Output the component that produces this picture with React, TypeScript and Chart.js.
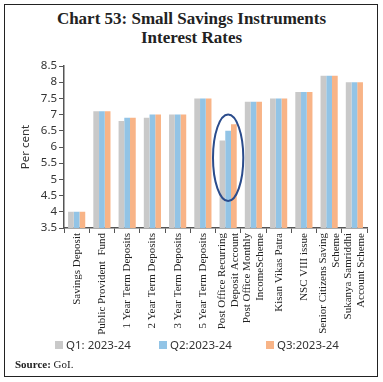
import React, { useEffect, useRef } from "react";
import { Chart, registerables } from "chart.js";

Chart.register(...registerables);

const categories: (string | string[])[] = [
  "Savings Deposit",
  "Public Provident  Fund",
  "1 Year Term Deposits",
  "2 Year Term Deposits",
  "3 Year Term Deposits",
  "5 Year Term Deposits",
  ["Post Office Recurring", "Deposit Account"],
  ["Post Office Monthly", "IncomeScheme"],
  "Kisan Vikas Patra",
  "NSC VIII issue",
  ["Senior Citizens Saving", "Scheme"],
  ["Sukanya Samriddhi", "Account Scheme"],
];

const q1 = [4.0, 7.1, 6.8, 6.9, 7.0, 7.5, 6.2, 7.4, 7.5, 7.7, 8.2, 8.0];
const q2 = [4.0, 7.1, 6.9, 7.0, 7.0, 7.5, 6.5, 7.4, 7.5, 7.7, 8.2, 8.0];
const q3 = [4.0, 7.1, 6.9, 7.0, 7.0, 7.5, 6.7, 7.4, 7.5, 7.7, 8.2, 8.0];

const seriesNames = ["Q1: 2023-24", "Q2:2023-24", "Q3:2023-24"];
const seriesColors = ["#C9C9C9", "#92C4E6", "#F8B487"];
const yMin = 3.5;
const yMax = 8.5;
const yStep = 0.5;

// highlighted category (ellipse annotation)
const highlightIndex = 6;
const highlightRange = [4.33, 7.0];

const ellipsePlugin = {
  id: "ellipse",
  afterDatasetsDraw(chart: any) {
    const xs = chart.scales.x;
    const ys = chart.scales.y;
    const cx = xs.getPixelForValue(highlightIndex);
    const y1 = ys.getPixelForValue(highlightRange[0]);
    const y2 = ys.getPixelForValue(highlightRange[1]);
    const cy = (y1 + y2) / 2;
    const ry = Math.abs(y1 - y2) / 2;
    const rx = (xs.width / categories.length) * 0.6;
    const ctx = chart.ctx;
    ctx.save();
    ctx.beginPath();
    ctx.ellipse(cx, cy, rx, ry, 0, 0, Math.PI * 2);
    ctx.strokeStyle = "#2B4C8C";
    ctx.lineWidth = 2;
    ctx.stroke();
    ctx.restore();
  },
};

// vertical category labels, multi-line labels centred on their category
const xLabelPlugin = {
  id: "xLabels",
  afterDraw(chart: any) {
    const xs = chart.scales.x;
    const ctx = chart.ctx;
    const lineGap = 13;
    ctx.save();
    ctx.font = "11px 'Liberation Serif'";
    ctx.fillStyle = "#222";
    ctx.textAlign = "right";
    ctx.textBaseline = "middle";
    categories.forEach((lab, i) => {
      const lines = Array.isArray(lab) ? lab : [lab];
      const cx = xs.getPixelForValue(i);
      lines.forEach((line, j) => {
        const off = (j - (lines.length - 1) / 2) * lineGap;
        ctx.save();
        ctx.translate(cx + off, xs.top + 5);
        ctx.rotate(-Math.PI / 2);
        ctx.fillText(line, 0, 0);
        ctx.restore();
      });
    });
    ctx.restore();
  },
};

export default function App() {
  const ref = useRef<HTMLCanvasElement>(null);
  useEffect(() => {
    const chart = new Chart(ref.current!, {
      type: "bar",
      data: {
        labels: categories,
        datasets: seriesNames.map((name, i) => ({
          label: name,
          data: [q1, q2, q3][i],
          backgroundColor: seriesColors[i],
        })),
      },
      options: {
        animation: false,
        responsive: false,
        maintainAspectRatio: false,
        layout: { padding: { left: 14, right: 12, top: 18, bottom: 0 } },
        datasets: {
          bar: { categoryPercentage: 0.68, barPercentage: 1.0 },
        },
        plugins: {
          legend: { display: false },
          tooltip: { enabled: false },
        },
        scales: {
          x: {
            grid: {
              display: true,
              drawOnChartArea: false,
              drawTicks: true,
              tickLength: 5,
              color: "#555",
              offset: true,
            },
            border: { display: true, color: "#555", width: 1.5 },
            ticks: {
              autoSkip: false,
              maxRotation: 0,
              callback: () => "",
            },
            afterFit: (scale: any) => {
              scale.height = 110;
            },
          },
          y: {
            min: yMin,
            max: yMax,
            grid: {
              display: true,
              drawOnChartArea: false,
              drawTicks: true,
              tickLength: 5,
              color: "#555",
            },
            border: { display: true, color: "#555", width: 1.5 },
            ticks: {
              stepSize: yStep,
              autoSkip: false,
              color: "#333",
              padding: 2,
              font: { family: "Noto Sans", size: 11.5 },
              callback: (v: any) => String(v),
            },
            title: {
              display: true,
              text: "Per cent",
              color: "#333",
              font: { family: "Noto Sans", size: 11.5 },
              padding: { top: 0, bottom: 6 },
            },
          },
        },
      },
      plugins: [ellipsePlugin, xLabelPlugin],
    });
    return () => chart.destroy();
  }, []);

  const legendLeft = [55, 159, 266];

  return (
    <div
      style={{
        position: "fixed",
        left: 0,
        top: 0,
        width: 383,
        height: 382,
        background: "#fff",
      }}
    >
      <div
        style={{
          position: "absolute",
          left: 4,
          top: 4,
          width: 372,
          height: 371,
          border: "1.5px solid #222",
        }}
      />
      <div
        style={{
          position: "absolute",
          left: 0,
          top: 9,
          width: 383,
          textAlign: "center",
          fontFamily: "Liberation Serif",
          fontWeight: "bold",
          fontSize: 17,
          lineHeight: "19px",
          color: "#222",
        }}
      >
        Chart 53: Small Savings Instruments
        <br />
        Interest Rates
      </div>
      <canvas
        ref={ref}
        width={374}
        height={290}
        style={{ position: "absolute", left: 5, top: 48 }}
      />
      {seriesNames.map((name, i) => (
        <div
          key={name}
          style={{
            position: "absolute",
            left: legendLeft[i],
            top: 337,
            display: "flex",
            alignItems: "center",
            fontFamily: "Noto Sans",
            fontSize: 11.5,
            color: "#333",
            whiteSpace: "nowrap",
          }}
        >
          <span
            style={{
              display: "inline-block",
              width: 8,
              height: 8,
              background: seriesColors[i],
              marginRight: 3,
            }}
          />
          {name}
        </div>
      ))}
      <div
        style={{
          position: "absolute",
          left: 15,
          top: 358,
          fontFamily: "Liberation Serif",
          fontSize: 11,
          color: "#222",
        }}
      >
        <b>Source:</b> GoI.
      </div>
    </div>
  );
}
